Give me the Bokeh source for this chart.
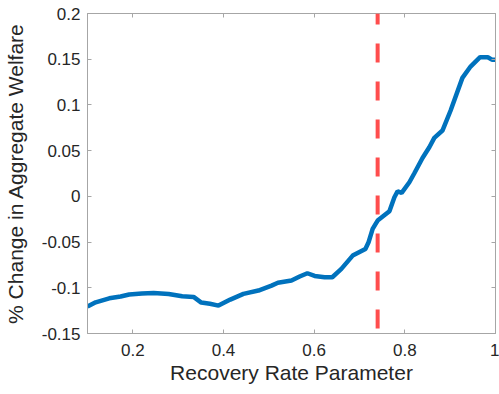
from bokeh.plotting import figure
from bokeh.models import Range1d, LinearAxis, FixedTicker, Span
from bokeh.embed import file_html
from bokeh.resources import INLINE

recovery_rate = [0.1, 0.118, 0.148, 0.173, 0.192, 0.22, 0.246, 0.279, 0.309, 0.334, 0.351, 0.37,
                 0.389, 0.415, 0.444, 0.477, 0.506, 0.52, 0.55, 0.568, 0.585, 0.601, 0.623, 0.64,
                 0.66, 0.685, 0.713, 0.72, 0.729, 0.74, 0.766, 0.777, 0.784, 0.793, 0.81, 0.821,
                 0.839, 0.854, 0.865, 0.883, 0.901, 0.927, 0.945, 0.966, 0.983, 0.993, 1.0]
welfare_change = [-0.1206, -0.1159, -0.1115, -0.1096, -0.1074, -0.1062, -0.1056, -0.1067, -0.1093,
                  -0.110, -0.1162, -0.1175, -0.1195, -0.1129, -0.1067, -0.103, -0.0976, -0.0945,
                  -0.0921, -0.0877, -0.0841, -0.087, -0.0885, -0.0885, -0.0793, -0.0648, -0.0575,
                  -0.0502, -0.0356, -0.0265, -0.0163, -0.001, 0.0056, 0.0038, 0.0154, 0.0253,
                  0.042, 0.0537, 0.064, 0.072, 0.0939, 0.1296, 0.142, 0.1522, 0.1522, 0.1493, 0.1493]
threshold_x = 0.74

x_ticks = [0.2, 0.4, 0.6, 0.8, 1.0]
x_tick_labels = ["0.2", "0.4", "0.6", "0.8", "1"]
y_ticks = [-0.15, -0.1, -0.05, 0.0, 0.05, 0.1, 0.15, 0.2]
y_tick_labels = ["-0.15", "-0.1", "-0.05", "0", "0.05", "0.1", "0.15", "0.2"]

FONT = "Liberation Sans"
TXT = "#262626"
AX = "#a6a6a6"

p = figure(width=499, height=394, output_backend="svg", toolbar_location=None,
           x_range=Range1d(0.1, 1.0), y_range=Range1d(-0.15, 0.2),
           x_axis_label="Recovery Rate Parameter",
           y_axis_label="% Change in Aggregate Welfare",
           min_border_left=85, min_border_right=4, min_border_top=13, min_border_bottom=61)
p.grid.visible = False
p.outline_line_color = AX
p.outline_line_width = 1
p.background_fill_color = "white"
p.border_fill_color = "white"

xt = dict(zip(x_ticks, x_tick_labels))
yt = dict(zip(y_ticks, y_tick_labels))

for ax in p.xaxis:
    ax.ticker = FixedTicker(ticks=x_ticks)
    ax.major_label_overrides = xt
for ax in p.yaxis:
    ax.ticker = FixedTicker(ticks=y_ticks)
    ax.major_label_overrides = yt

for ax in list(p.xaxis) + list(p.yaxis):
    ax.axis_line_color = AX
    ax.major_tick_line_color = AX
    ax.major_tick_in = 4
    ax.major_tick_out = 0
    ax.minor_tick_line_color = None
    ax.major_label_text_font = FONT
    ax.major_label_text_font_size = "17px"
    ax.major_label_text_color = TXT
    ax.axis_label_text_font = FONT
    ax.axis_label_text_font_size = "21px"
    ax.axis_label_text_font_style = "normal"
    ax.axis_label_text_color = TXT

p.xaxis.major_label_standoff = 10
p.xaxis.axis_label_standoff = 2
p.yaxis.major_label_standoff = 7
p.yaxis.axis_label_standoff = 12

top = LinearAxis(ticker=FixedTicker(ticks=x_ticks), axis_line_color=AX, major_tick_line_color=AX,
                 major_tick_in=4, major_tick_out=0, minor_tick_line_color=None,
                 major_label_text_font_size="1px", major_label_text_color=None,
                 major_label_standoff=0)
right = LinearAxis(ticker=FixedTicker(ticks=y_ticks), axis_line_color=AX, major_tick_line_color=AX,
                   major_tick_in=4, major_tick_out=0, minor_tick_line_color=None,
                   major_label_text_font_size="1px", major_label_text_color=None,
                   major_label_standoff=0)
p.add_layout(top, "above")
p.add_layout(right, "right")

p.line(recovery_rate, welfare_change, line_color="#0072BD", line_width=4.5)

vline = Span(location=threshold_x, dimension="height", line_color="#FF4D4D",
             line_width=4, line_dash="19 19", line_dash_offset=8)
p.add_layout(vline)

open("out.html", "w").write(file_html(p, INLINE))
